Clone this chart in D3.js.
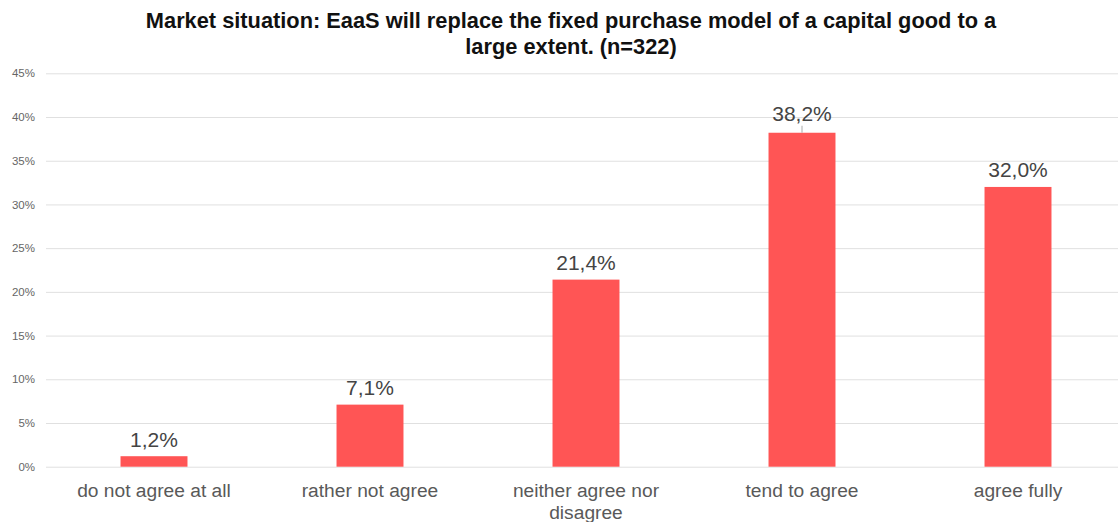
<!DOCTYPE html>
<html>
<head>
<meta charset="utf-8">
<script src="https://cdn.jsdelivr.net/npm/d3@7"></script>
<style>
  html, body { margin: 0; padding: 0; background: #fff; }
  svg { display: block; font-family: "Liberation Sans", Arial, sans-serif; }
</style>
</head>
<body>
<svg id="chart" width="1118" height="522"></svg>
<script>
// Survey answers and their shares (percent)
const categories = [
  "do not agree at all",
  "rather not agree",
  "neither agree nor disagree",
  "tend to agree",
  "agree fully"
];
const shares = [1.2, 7.1, 21.4, 38.2, 32.0];
const yTicks = [0, 5, 10, 15, 20, 25, 30, 35, 40, 45];
const titleLines = [
  "Market situation: EaaS will replace the fixed purchase model of a capital good to a",
  "large extent. (n=322)"
];

const W = 1118, H = 522;
const margin = { top: 73.3, right: 0, bottom: 55.3, left: 46 };
const svg = d3.select("#chart");

const x = d3.scaleBand()
  .domain(categories)
  .range([margin.left, 1126])
  .paddingInner(0.69)
  .paddingOuter(0.345);

const y = d3.scaleLinear()
  .domain([0, 45])
  .range([H - margin.bottom, margin.top]);

// Horizontal gridlines + percentage tick labels
const yAxis = d3.axisLeft(y)
  .tickValues(yTicks)
  .tickSize(-(W - margin.left))
  .tickPadding(11)
  .tickFormat(d => d + "%");

const gy = svg.append("g")
  .attr("transform", `translate(${margin.left},0)`)
  .call(yAxis);
gy.select(".domain").remove();
gy.selectAll(".tick line").attr("stroke", "#e0e0e0").attr("stroke-width", 1);
gy.selectAll(".tick text")
  .attr("fill", "#666")
  .style("font-size", "11.5px")
  .style("font-family", "'Liberation Sans', Arial, sans-serif");

// Bars
svg.append("g").selectAll("rect")
  .data(categories)
  .join("rect")
  .attr("x", d => x(d))
  .attr("width", x.bandwidth())
  .attr("y", (d, i) => y(shares[i]))
  .attr("height", (d, i) => y(0) - y(shares[i]))
  .attr("fill", "#ff5555");

// Value labels above bars
const fmt = v => v.toFixed(1).replace(".", ",") + "%";
svg.append("g").selectAll("text")
  .data(categories)
  .join("text")
  .attr("x", d => x(d) + x.bandwidth() / 2)
  .attr("y", (d, i) => y(shares[i]) - (i === shares.indexOf(d3.max(shares)) ? 12 : 9.5))
  .attr("text-anchor", "middle")
  .attr("fill", "#444")
  .style("font-size", "21px")
  .text((d, i) => fmt(shares[i]));

// Leader tick for the tallest bar's label
const maxIdx = shares.indexOf(d3.max(shares));
svg.append("line")
  .attr("x1", x(categories[maxIdx]) + x.bandwidth() / 2)
  .attr("x2", x(categories[maxIdx]) + x.bandwidth() / 2)
  .attr("y1", y(shares[maxIdx]) - 7)
  .attr("y2", y(shares[maxIdx]))
  .attr("stroke", "#aaa")
  .attr("stroke-width", 1);

// Category labels, wrapped to two lines where needed
const xLabelLines = {
  "neither agree nor disagree": ["neither agree nor", "disagree"]
};
const xl = svg.append("g").selectAll("text")
  .data(categories)
  .join("text")
  .attr("x", d => x(d) + x.bandwidth() / 2)
  .attr("y", 497)
  .attr("text-anchor", "middle")
  .attr("fill", "#595959")
  .style("font-size", "19.2px");
xl.each(function (d) {
  const lines = xLabelLines[d] || [d];
  const t = d3.select(this);
  lines.forEach((ln, k) => {
    t.append("tspan")
      .attr("x", x(d) + x.bandwidth() / 2)
      .attr("dy", k === 0 ? 0 : 21.5)
      .text(ln);
  });
});

// Title
svg.append("g").selectAll("text")
  .data(titleLines)
  .join("text")
  .attr("x", 571)
  .attr("y", (d, i) => 27.5 + i * 26)
  .attr("text-anchor", "middle")
  .attr("fill", "#111")
  .style("font-size", "21.8px")
  .style("font-weight", "bold")
  .text(d => d);
</script>
</body>
</html>
